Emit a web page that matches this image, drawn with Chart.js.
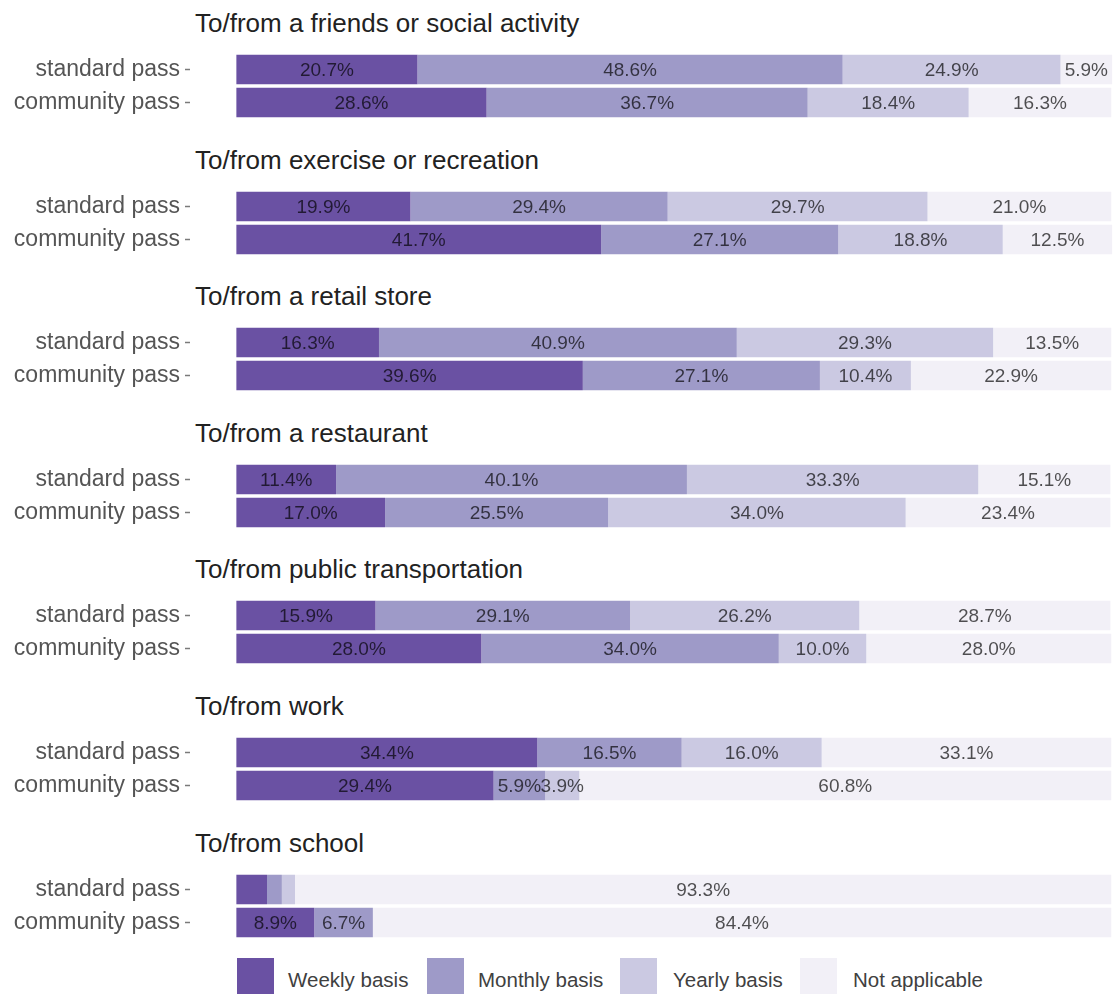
<!DOCTYPE html>
<html>
<head>
<meta charset="utf-8">
<script src="https://cdn.jsdelivr.net/npm/chart.js@4.4.1/dist/chart.umd.min.js"></script>
<style>
  html, body { margin: 0; padding: 0; background: #ffffff; width: 1113px; height: 994px; overflow: hidden; }
  body { position: relative; font-family: "Liberation Sans", Arial, Helvetica, sans-serif; }
  .title { position: absolute; left: 195px; height: 30px; line-height: 30px; font-size: 26px; color: #222222; white-space: nowrap; }
  .facet { position: absolute; left: 0; width: 1113px; height: 66px; }
  .leg-box { position: absolute; width: 37px; height: 40px; }
  .leg-text { position: absolute; font-size: 20.5px; color: #404040; line-height: 24px; height: 24px; white-space: nowrap; }
</style>
</head>
<body>
<script>
// ---- data ----
const categories = [
  "To/from a friends or social activity",
  "To/from exercise or recreation",
  "To/from a retail store",
  "To/from a restaurant",
  "To/from public transportation",
  "To/from work",
  "To/from school"
];
const rowLabels = ["standard pass", "community pass"];
const seriesNames = ["Weekly basis", "Monthly basis", "Yearly basis", "Not applicable"];

const weeklyStandard        = [20.7, 19.9, 16.3, 11.4, 15.9, 34.4, 3.5];
const monthlyStandard       = [48.6, 29.4, 40.9, 40.1, 29.1, 16.5, 1.7];
const yearlyStandard        = [24.9, 29.7, 29.3, 33.3, 26.2, 16.0, 1.5];
const notApplicableStandard = [5.9, 21.0, 13.5, 15.1, 28.7, 33.1, 93.3];

const weeklyCommunity        = [28.6, 41.7, 39.6, 17.0, 28.0, 29.4, 8.9];
const monthlyCommunity       = [36.7, 27.1, 27.1, 25.5, 34.0, 5.9, 6.7];
const yearlyCommunity        = [18.4, 18.8, 10.4, 34.0, 10.0, 3.9, 0];
const notApplicableCommunity = [16.3, 12.5, 22.9, 23.4, 28.0, 60.8, 84.4];

// ---- styling ----
const colors = ["#6a51a3", "#9e9ac8", "#cbc9e2", "#f2f0f7"];
const FONT = '"Liberation Sans", Arial, Helvetica, sans-serif';
const labelThreshold = 3.8;

const stdSeries = [weeklyStandard, monthlyStandard, yearlyStandard, notApplicableStandard];
const comSeries = [weeklyCommunity, monthlyCommunity, yearlyCommunity, notApplicableCommunity];

const segmentLabels = {
  id: 'segmentLabels',
  afterDatasetsDraw(chart) {
    const ctx = chart.ctx;
    ctx.save();
    ctx.font = '19px ' + FONT;
    ctx.textAlign = 'center';
    ctx.textBaseline = 'middle';
    ctx.fillStyle = 'rgba(0,0,0,0.68)';
    chart.data.datasets.forEach((ds, di) => {
      const meta = chart.getDatasetMeta(di);
      meta.data.forEach((el, i) => {
        const v = ds.data[i];
        if (v == null || v < labelThreshold) return;
        const p = el.getProps(['x', 'y', 'base'], true);
        ctx.fillText(v.toFixed(1) + '%', (p.x + p.base) / 2, p.y + 1);
      });
    });
    ctx.restore();
  }
};

const pitch = 136.6;
const firstTitle = 22;

categories.forEach((cat, k) => {
  const T = firstTitle + pitch * k;
  const t = document.createElement('div');
  t.className = 'title';
  t.textContent = cat;
  t.style.top = (T - 14) + 'px';
  document.body.appendChild(t);

  const wrap = document.createElement('div');
  wrap.className = 'facet';
  wrap.style.top = (T + 31) + 'px';
  const cv = document.createElement('canvas');
  cv.width = 1113; cv.height = 66;
  cv.style.width = '1113px'; cv.style.height = '66px';
  wrap.appendChild(cv);
  document.body.appendChild(wrap);

  new Chart(cv, {
    type: 'bar',
    data: {
      labels: rowLabels,
      datasets: seriesNames.map((name, s) => ({
        label: name,
        data: [stdSeries[s][k], comSeries[s][k]],
        backgroundColor: colors[s],
        borderWidth: 0,
        barPercentage: 0.895,
        categoryPercentage: 1.0
      }))
    },
    options: {
      indexAxis: 'y',
      responsive: false,
      maintainAspectRatio: false,
      animation: false,
      layout: { padding: 0 },
      plugins: { legend: { display: false }, tooltip: { enabled: false }, title: { display: false } },
      scales: {
        x: { stacked: true, min: -5.3, max: 100.2, display: false },
        y: {
          stacked: true,
          afterFit: (s) => { s.width = 190; s.paddingTop = 0; s.paddingBottom = 0; },
          border: { display: false },
          grid: { offset: false, drawOnChartArea: false, drawTicks: true, tickLength: 5, tickColor: '#7a7a7a', tickWidth: 1.5 },
          ticks: { font: { size: 23, family: FONT }, color: '#555555', padding: 5 }
        }
      }
    },
    plugins: [segmentLabels]
  });
});

// ---- legend (HTML) ----
const legendBoxX = [237, 427, 620, 800];
const legendTextX = [288, 478, 673, 853];
seriesNames.forEach((name, s) => {
  const b = document.createElement('div');
  b.className = 'leg-box';
  b.style.left = legendBoxX[s] + 'px';
  b.style.top = '958px';
  b.style.background = colors[s];
  document.body.appendChild(b);
  const tx = document.createElement('div');
  tx.className = 'leg-text';
  tx.style.left = legendTextX[s] + 'px';
  tx.style.top = '968px';
  tx.textContent = name;
  document.body.appendChild(tx);
});
</script>
</body>
</html>
